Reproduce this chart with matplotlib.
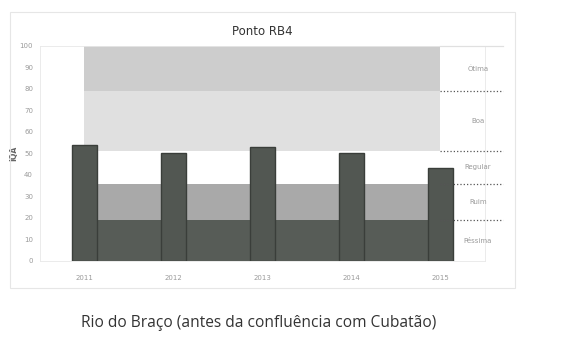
import numpy as np
import matplotlib.pyplot as plt
from matplotlib.patches import Rectangle

# Dados
datas = ['2011', '2012', '2013', '2014', '2015']
iqa = [54, 50, 53, 50, 43]

# Limites das classes de IQA
classes = ['Péssima', 'Ruim', 'Regular', 'Boa', 'Ótima']
limites = [0, 19, 36, 51, 79, 100]
cores_classes = ['#575c57', '#a9a9a9', '#ffffff', '#e0e0e0', '#cdcdcd']

fig = plt.figure(figsize=(5.69, 3.38), dpi=100)
ax = fig.add_axes([0.0703, 0.228, 0.782, 0.636])

x = np.arange(len(datas))

# Faixas de classe (area empilhada)
for i in range(len(classes)):
    ax.fill_between([x[0], x[-1]], limites[i], limites[i + 1],
                    color=cores_classes[i], linewidth=0, zorder=1)

# Colunas do IQA
ax.bar(x, iqa, width=0.28, color='#525752', edgecolor='#3a3e3a',
       linewidth=1.0, zorder=3)

ax.set_xlim(-0.5, 4.5)
ax.set_ylim(0, 100)
ax.set_yticks(np.arange(0, 101, 10))
ax.set_xticks(x)
ax.set_xticklabels(datas)
ax.tick_params(axis='both', length=0, labelsize=5, colors='#9a9a9a')
ax.tick_params(axis='x', pad=10)
ax.tick_params(axis='y', pad=5)
for s in ax.spines.values():
    s.set_color('#e8e8e8')
    s.set_linewidth(0.6)

ax.set_ylabel('IQA', fontsize=5.5, color='#666666', labelpad=1,
              fontweight='bold')

# Linhas e rótulos das classes a direita
for lim in limites[1:]:
    estilo = ':' if lim < 100 else '-'
    cor = '#555555' if lim < 100 else '#e0e0e0'
    ax.plot([4.0, 4.7], [lim, lim], linestyle=estilo, color=cor,
            linewidth=0.9, clip_on=False, zorder=4)
for i in range(len(classes)):
    meio = (limites[i] + limites[i + 1]) / 2
    ax.text(4.42, meio, classes[i], fontsize=5, color='#9a9a9a',
            ha='center', va='center', zorder=5)

ax.set_title('Ponto RB4', fontsize=8.5, color='#333333', pad=8)

# Moldura do grafico
fig.patches.append(Rectangle((10 / 569, 1 - 288 / 338), 505 / 569, 276 / 338,
                             transform=fig.transFigure, fill=False,
                             edgecolor='#e6e6e6', linewidth=0.8))

fig.text(0.455, 1 - 323 / 338, 'Rio do Braço (antes da confluência com Cubatão)',
         fontsize=11.2, color='#333333', ha='center', va='center',
         family=['Open Sans', 'DejaVu Sans'])

fig.savefig('out.png', dpi=100)
